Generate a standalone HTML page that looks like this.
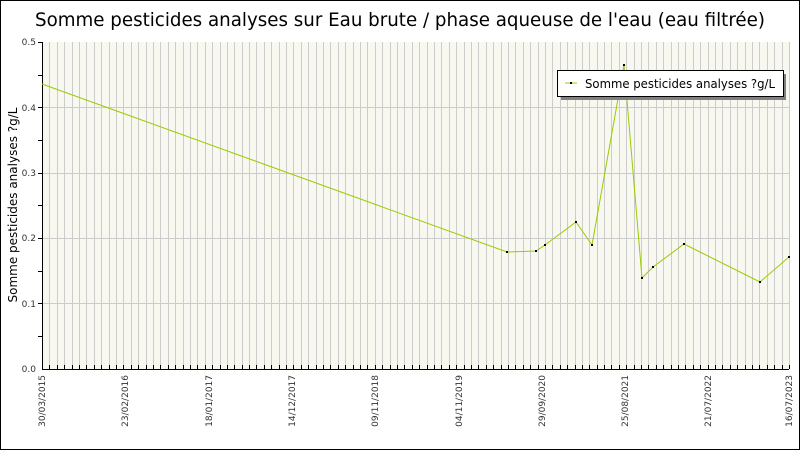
<!DOCTYPE html>
<html><head><meta charset="utf-8"><style>
body{margin:0;background:#fff;}
svg{display:block;font-family:"DejaVu Sans","Liberation Sans",sans-serif;}
</style></head><body>
<svg width="800" height="450" xmlns="http://www.w3.org/2000/svg">
<rect x="0.5" y="0.5" width="799" height="449" fill="#fff" stroke="#000"/>
<text x="35" y="26" font-size="19" textLength="730" lengthAdjust="spacingAndGlyphs" fill="#000">Somme pesticides analyses sur Eau brute / phase aqueuse de l'eau (eau filtrée)</text>
<rect x="42" y="42" width="747" height="327" fill="#f8f8f0"/>
<g id="vg" stroke="#cccccc" stroke-width="1"></g>
<g stroke="#cccccc">
<line x1="42" y1="107.5" x2="789" y2="107.5"/>
<line x1="42" y1="173.5" x2="789" y2="173.5"/>
<line x1="42" y1="238.5" x2="789" y2="238.5"/>
<line x1="42" y1="303.5" x2="789" y2="303.5"/>
</g>
<g id="ticks" stroke="#000"></g>
<line x1="42.5" y1="42" x2="42.5" y2="369" stroke="#000"/>
<line x1="42" y1="369.5" x2="789" y2="369.5" stroke="#000"/>
<g font-size="9" fill="#333" text-anchor="end">
<text x="36" y="45">0.5</text>
<text x="36" y="111">0.4</text>
<text x="36" y="176">0.3</text>
<text x="36" y="241">0.2</text>
<text x="36" y="307">0.1</text>
<text x="36" y="372">0.0</text>
</g>
<g stroke="#000">
<line x1="38" y1="42.5" x2="42" y2="42.5"/><line x1="38" y1="75.5" x2="42" y2="75.5"/>
<line x1="38" y1="107.5" x2="42" y2="107.5"/><line x1="38" y1="140.5" x2="42" y2="140.5"/>
<line x1="38" y1="173.5" x2="42" y2="173.5"/><line x1="38" y1="205.5" x2="42" y2="205.5"/>
<line x1="38" y1="238.5" x2="42" y2="238.5"/><line x1="38" y1="271.5" x2="42" y2="271.5"/>
<line x1="38" y1="303.5" x2="42" y2="303.5"/><line x1="38" y1="336.5" x2="42" y2="336.5"/>
</g>
<text transform="translate(17,205) rotate(-90)" font-size="12" text-anchor="middle" fill="#000">Somme pesticides analyses ?g/L</text>
<g font-size="9" fill="#333" text-anchor="end">
<text transform="translate(45,375) rotate(-90)">30/03/2015</text>
<text transform="translate(128,375) rotate(-90)">23/02/2016</text>
<text transform="translate(212,375) rotate(-90)">18/01/2017</text>
<text transform="translate(295,375) rotate(-90)">14/12/2017</text>
<text transform="translate(378,375) rotate(-90)">09/11/2018</text>
<text transform="translate(462,375) rotate(-90)">04/11/2019</text>
<text transform="translate(545,375) rotate(-90)">29/09/2020</text>
<text transform="translate(628,375) rotate(-90)">25/08/2021</text>
<text transform="translate(711,375) rotate(-90)">21/07/2022</text>
<text transform="translate(792,375) rotate(-90)">16/07/2023</text>
</g>
<polyline fill="none" stroke="#99cc00" stroke-width="1" points="42,84 507,252 536,251 545,245 576,222 592,245 624,65 642,278 653,267 684,244 760,282 789,257"/>
<g fill="#000">
<rect x="506" y="251" width="2" height="2"/><rect x="535" y="250" width="2" height="2"/><rect x="544" y="244" width="2" height="2"/><rect x="575" y="221" width="2" height="2"/><rect x="591" y="244" width="2" height="2"/><rect x="623" y="64" width="2" height="2"/><rect x="641" y="277" width="2" height="2"/><rect x="652" y="266" width="2" height="2"/><rect x="683" y="243" width="2" height="2"/><rect x="759" y="281" width="2" height="2"/><rect x="788" y="256" width="2" height="2"/>
</g>
<rect x="561" y="74" width="225" height="26" fill="#808080"/>
<rect x="557.5" y="70.5" width="226" height="26" fill="#fff" stroke="#000"/>
<line x1="565" y1="83" x2="577" y2="83" stroke="#99cc00"/>
<rect x="570" y="82" width="2" height="2" fill="#000"/>
<text x="585" y="88" font-size="12" textLength="190" lengthAdjust="spacingAndGlyphs" fill="#000">Somme pesticides analyses ?g/L</text>
<script>
var g=document.getElementById('vg'),t=document.getElementById('ticks'),ns='http://www.w3.org/2000/svg';
for(var i=1;i<=101;i++){var x=Math.round(42+i*747/101)+0.5;
var l=document.createElementNS(ns,'line');l.setAttribute('x1',x);l.setAttribute('x2',x);l.setAttribute('y1',42);l.setAttribute('y2',369);g.appendChild(l);
var k=document.createElementNS(ns,'line');k.setAttribute('x1',x);k.setAttribute('x2',x);k.setAttribute('y1',365);k.setAttribute('y2',369);t.appendChild(k);}
</script>
</svg>
</body></html>
